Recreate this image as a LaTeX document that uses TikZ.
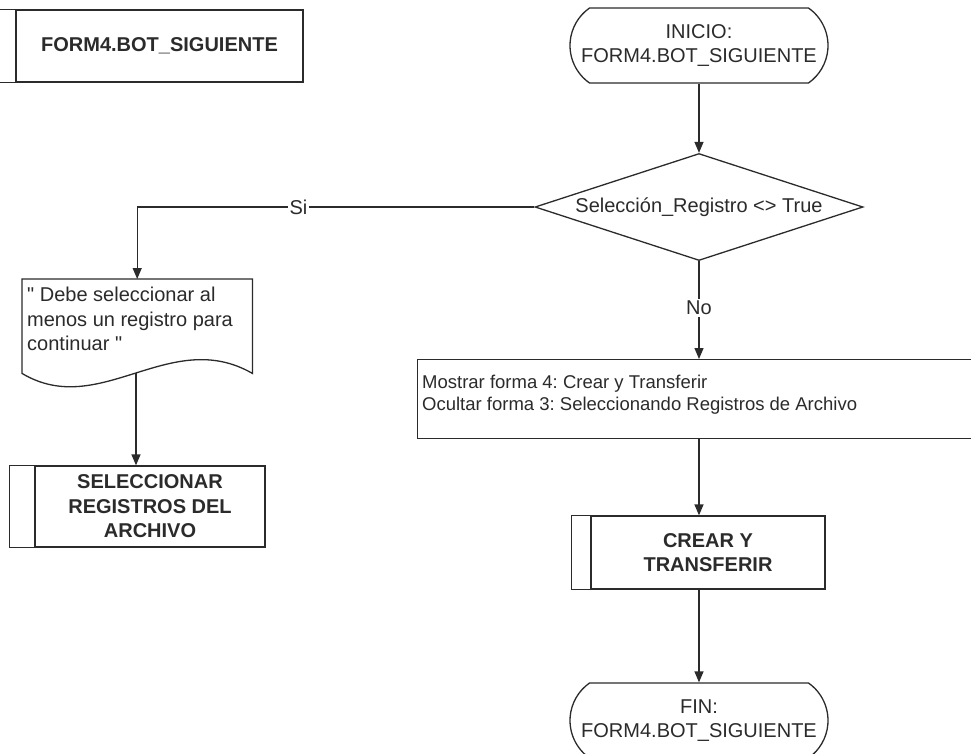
\documentclass[tikz,border=0pt]{standalone}
\usepackage{fontspec}
\setmainfont{Liberation Sans}
\usetikzlibrary{arrows.meta,shapes.geometric,shapes.misc}
\definecolor{ink}{HTML}{2B2B2B}
\frenchspacing
\begin{document}
\begin{tikzpicture}[x=1pt,y=-1pt,
  every node/.style={text=ink},
  base/.style={draw=ink, line width=1.3pt, fill=white, inner sep=0pt},
  big/.style={font=\fontsize{20}{24.5}\selectfont},
  term/.style={base, big, rounded rectangle, rounded rectangle arc length=110,
    minimum width=258pt, minimum height=75pt, align=center},
  subproc/.style={base, rectangle, align=center,
    font=\fontsize{20}{24.5}\selectfont\bfseries},
  edge/.style={draw=ink, line width=1.3pt},
  arr/.style={edge, -{Triangle[length=11pt,width=9pt]}},
  lbl/.style={fill=white, inner sep=2pt, big}]
\useasboundingbox (0,0) rectangle (971,753);
\clip (0,0) rectangle (971,753);

% title block of the routine
\node[subproc, minimum width=287pt, minimum height=72pt] (hdr) at (159.5,46) {FORM4.BOT\_SIGUIENTE};
\draw[edge] (hdr.north west) -- ++(-26,0) |- (hdr.south west);

% start terminator
\node[term] (start) at (699,45.5) {INICIO:\\FORM4.BOT\_SIGUIENTE};

% decision
\node[base, big, diamond, aspect=3.06, minimum width=328pt, minimum height=107pt] (dec) at (699,207)
  {Selección\_Registro <> True};

% message document with wavy bottom
\node[minimum width=230pt, minimum height=94pt, inner sep=0pt, anchor=north west] (doc) at (22,279) {};
\draw[base] (doc.north west) -- (doc.north east) -- (doc.south east)
  .. controls (170,326) and (100,420) .. (doc.south west) -- cycle;
\coordinate (docbot) at (136,373);
\node[anchor=north west, big, align=left, inner sep=0pt] (doctext) at (27,287)
  {\textquotedbl{} Debe seleccionar al\\menos un registro para\\continuar \textquotedbl};

% sub-process: select records
\node[subproc, minimum width=230pt, minimum height=81pt] (sel) at (150,506.5)
  {SELECCIONAR\\REGISTROS DEL\\ARCHIVO};
\draw[edge] (sel.north west) -- ++(-25,0) |- (sel.south west);

% process box
\node[base, anchor=north west, minimum width=580pt, minimum height=79pt] (proc) at (417,359) {};
\node[anchor=north west, align=left, inner sep=0pt, font=\fontsize{18.5}{21.5}\selectfont] (proctext) at (422,375)
  {Mostrar forma 4: Crear y Transferir\\Ocultar forma 3: Seleccionando Registros de Archivo};

% sub-process: create and transfer
\node[subproc, minimum width=234pt, minimum height=73pt] (crear) at (708,552.5)
  {CREAR Y\\TRANSFERIR};
\draw[edge] (crear.north west) -- ++(-19,0) |- (crear.south west);

% end terminator
\node[term] (fin) at (699,720.5) {FIN:\\FORM4.BOT\_SIGUIENTE};

% connectors
\draw[arr] (start.south) -- (dec.north);
\draw[arr] (dec.west) -| (doc.north) node[lbl, pos=0.297] {Si};
\draw[arr] (docbot) -- (docbot |- sel.north);
\draw[arr] (dec.south) -- (dec.south |- proc.north) node[lbl, pos=0.48] {No};
\draw[arr] (dec.south |- proc.south) -- (dec.south |- crear.north);
\draw[arr] (dec.south |- crear.south) -- (fin.north);
\end{tikzpicture}
\end{document}
